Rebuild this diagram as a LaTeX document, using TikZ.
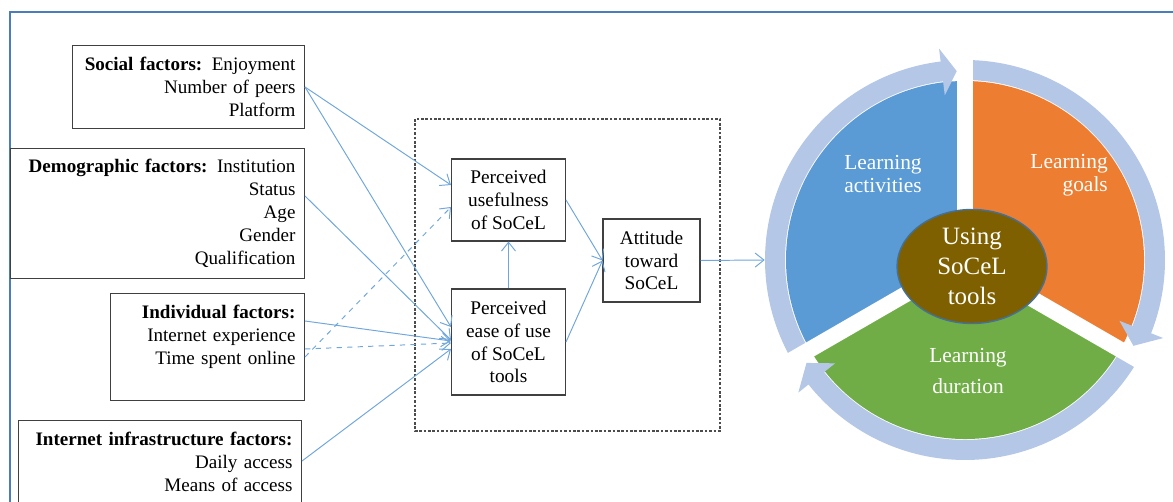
\documentclass[tikz,border=0pt]{standalone}
\usepackage{fontspec}
\setmainfont{Liberation Serif}
\usetikzlibrary{arrows.meta,shapes.geometric}
\definecolor{segblue}{HTML}{5B9BD5}
\definecolor{segorange}{HTML}{ED7D31}
\definecolor{seggreen}{HTML}{70AD47}
\definecolor{ringc}{HTML}{B4C7E7}
\definecolor{hubfill}{HTML}{7F6000}
\definecolor{hubdraw}{HTML}{41719C}
\definecolor{linkc}{HTML}{6FA6DC}
\definecolor{framec}{HTML}{4A7EBB}
\begin{document}
\begin{tikzpicture}[x=0.02cm, y=0.02cm,
    fbox/.style={draw=black!75, line width=0.6pt, align=right, anchor=north east,
      inner xsep=0.18cm, font=\fontsize{10.85}{13}\selectfont},
    cbox/.style={draw=black!75, line width=0.6pt, align=center, inner sep=0pt,
      font=\fontsize{11}{13}\selectfont},
    link/.style={draw=linkc, line width=0.55pt, -{Straight Barb[length=5pt,width=8pt]}},
    seglbl/.style={text=white, align=center, font=\fontsize{12.2}{13}\selectfont}]
  \useasboundingbox (0,0) rectangle (1173,-502);
  \draw[framec, line width=1.2pt] (1173,-12) -- (10,-12) -- (10,-502);

  \node[fbox, text width=4.28cm, minimum height=1.66cm] (soc) at (305,-45)
    {\textbf{Social factors:} Enjoyment\\Number of peers\\Platform};
  \node[fbox, text width=5.52cm, minimum height=2.6cm] (dem) at (305,-148)
    {\textbf{Demographic factors:} Institution\\Status\\Age\\Gender\\Qualification};
  \node[fbox, text width=3.52cm, minimum height=2.14cm] (ind) at (305,-293)
    {\textbf{Individual factors:}\\Internet experience\\Time spent online\\[-3pt]\strut};
  \node[fbox, text width=5.3cm, minimum height=1.66cm] (inf) at (302,-420)
    {\textbf{Internet infrastructure factors:}\\Daily access\\Means of access};

  \draw[black!70, line width=0.6pt, dash pattern=on 1.5pt off 1pt] (415,-119) rectangle (720,-431);
  \node[cbox, minimum width=2.28cm, minimum height=1.64cm] (pu) at (508.5,-200)
    {Perceived\\usefulness\\of SoCeL};
  \node[cbox, minimum width=2.28cm, minimum height=2.12cm] (peu) at (508.5,-342)
    {Perceived\\ease of use\\of SoCeL\\tools};
  \node[cbox, minimum width=1.94cm, minimum height=1.66cm] (att) at (651.5,-260.5)
    {Attitude\\toward\\SoCeL};

  \node[circle, minimum size=8cm, inner sep=0pt] (cyc) at (965,-260) {};
  \begin{scope}[shift={(cyc.center)}]
    \fill[segblue] (0,0) -- (90:179) arc[start angle=90, end angle=210, radius=179] -- cycle;
    \fill[segorange] (0,0) -- (-30:179) arc[start angle=-30, end angle=90, radius=179] -- cycle;
    \fill[seggreen] (0,0) -- (210:179) arc[start angle=210, end angle=330, radius=179] -- cycle;
    \foreach \s/\b/\t in {209.5/97/92.5, 88.5/-21.5/-27, -31.5/-141.5/-147}
      \fill[ringc] (\s:200) arc[start angle=\s, end angle=\b, radius=200] -- (\b:213)
        -- (\t:189) -- (\b:166) -- (\b:180) arc[start angle=\b, end angle=\s, radius=180] -- cycle;
    \foreach \a in {90,210,330}
      \draw[white, line width=0.32cm] (0,0) -- (\a:216);
  \end{scope}
  \node[ellipse, fill=hubfill, draw=hubdraw, line width=0.8pt, minimum width=3cm,
    minimum height=2.28cm, inner sep=0pt, text=white, align=center,
    font=\fontsize{14.2}{17}\selectfont] (hub) at (972,-266.5) {Using\\SoCeL\\tools};
  \node[seglbl] (act) at (883,-174) {Learning\\activities};
  \node[seglbl, align=right, anchor=east] (goal) at (1114,-175) {Learning\\goals};
  \node[seglbl, font=\fontsize{12.2}{18}\selectfont] (dur) at (968,-371) {Learning\\duration};

  \draw[link] (soc.east) -- (pu.west |- 0,-185);
  \draw[link] (soc.east) -- (peu.west |- 0,-327);
  \draw[link] (dem.east |- 0,-196) -- (peu.west |- 0,-340);
  \draw[link] (ind.east |- 0,-321) -- (peu.west |- 0,-341);
  \draw[link, dashed] (ind.east |- 0,-349) -- (peu.west |- 0,-343);
  \draw[link, dashed] (ind.east |- 0,-357) -- (pu.west |- 0,-207);
  \draw[link] (inf.east |- 0,-461) -- (peu.west |- 0,-349);
  \draw[link] (peu.north) -- (pu.south);
  \draw[link] (pu.east) -- (att.west);
  \draw[link] (peu.east) -- (att.west);
  \draw[link] (att.east) -- (cyc.west);
\end{tikzpicture}
\end{document}
